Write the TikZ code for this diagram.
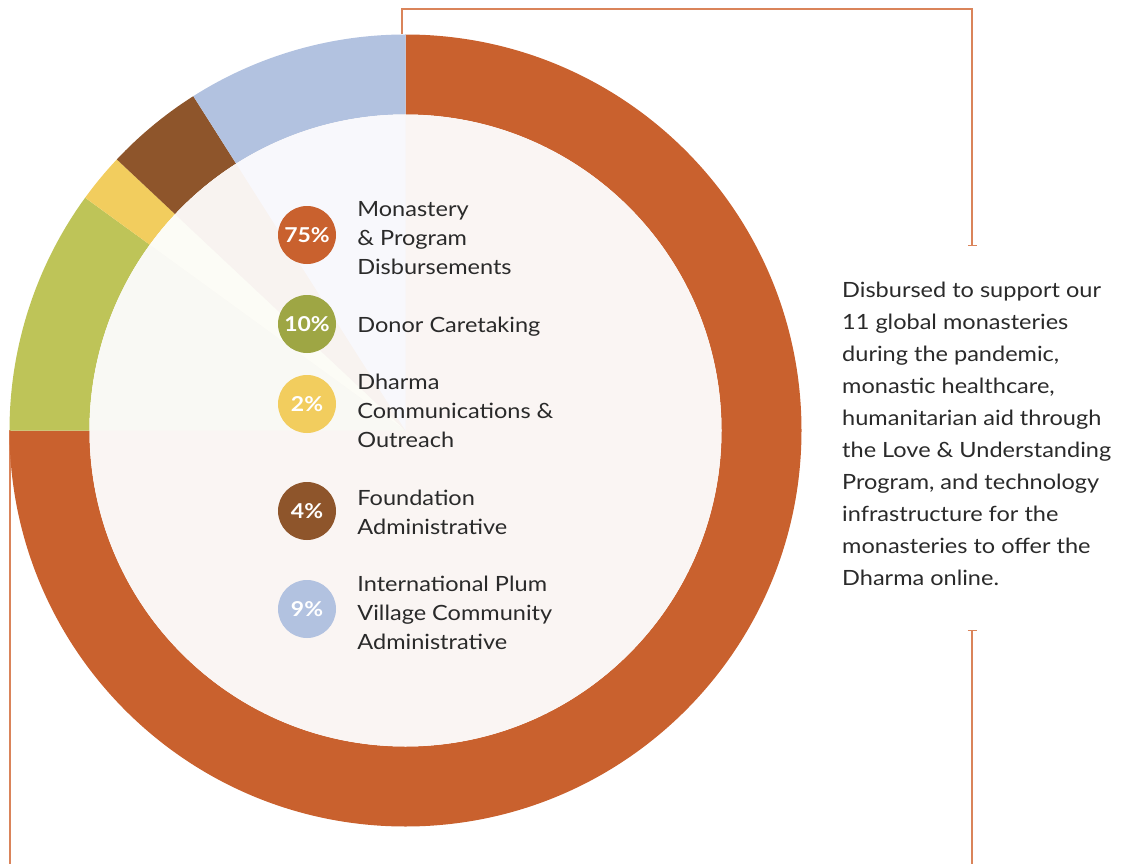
\documentclass[tikz,border=0pt]{standalone}
\usepackage{fontspec}
\setmainfont{Lato}[FakeStretch=1.12]
\usepackage{xcolor}
\usetikzlibrary{positioning,arrows.meta}
\definecolor{segorange}{HTML}{C9612E}
\definecolor{seggreen}{HTML}{BEC458}
\definecolor{segyellow}{HTML}{F2CD5E}
\definecolor{segbrown}{HTML}{8E552B}
\definecolor{segblue}{HTML}{B2C2E0}
\definecolor{dotgreen}{HTML}{9EA644}
\definecolor{innerbase}{HTML}{FAF5F3}
\definecolor{tintblue}{HTML}{F8F8FC}
\definecolor{tintbrown}{HTML}{F8F3F0}
\definecolor{tintyellow}{HTML}{FCFCF6}
\definecolor{tintgreen}{HTML}{F9F9F4}
\definecolor{leadcol}{HTML}{DA845A}
\definecolor{txtgray}{HTML}{2A2A2A}
\newcommand{\outr}{396}
\newcommand{\innr}{316}
\newcommand{\ring}[3]{\fill[#1] (#2:\outr) arc[start angle=#2, end angle=#3, radius=\outr] -- (#3:\innr) arc[start angle=#3, end angle=#2, radius=\innr] -- cycle;}
\newcommand{\tintwedge}[3]{\fill[#1] (0,0) -- (#2:\innr) arc[start angle=#2, end angle=#3, radius=\innr] -- cycle;}
\tikzset{
    pctsty/.style={circle,fill=#1,minimum size=58pt,inner sep=0pt,text=white,font=\fontsize{20.5}{20.5}\selectfont\bfseries},
    labsty/.style={anchor=west,inner sep=0pt,align=left,text=txtgray,font=\fontsize{21}{28.8}\selectfont},
    notesty/.style={anchor=north west,inner sep=0pt,align=left,text=txtgray,font=\fontsize{21}{32}\selectfont},
    leadsty/.style={draw=leadcol,line width=1.4pt},
    tipsty/.style={-{Bar[width=9pt,line width=1.4pt]}},
}

\begin{document}
\begin{tikzpicture}[x=1pt,y=-1pt]
  \useasboundingbox (0,0) rectangle (1133,864);

  \coordinate (top) at (402,34);
  \coordinate (topl) at (402,9);
  \coordinate (topr) at (972,9);
  \coordinate (endr) at (972,246);
  \coordinate (startr) at (972,630);
  \coordinate (botr) at (972,864);
  \coordinate (left) at (10,430);
  \coordinate (botl) at (10,864);

  \draw[leadsty,tipsty] (top) -- (topl) -- (topr) -- (endr);
  \draw[leadsty,{Bar[width=9pt,line width=1.4pt]}-] (startr) -- (botr);
  \draw[leadsty] (left) -- (botl);

  \begin{scope}[shift={(405.5,430.5)},yscale=-1]
    \ring{segorange}{90}{-180}
    \ring{seggreen}{180}{144}
    \ring{segyellow}{144}{136.8}
    \ring{segbrown}{136.8}{122.4}
    \ring{segblue}{122.4}{90}
    \fill[innerbase] (0,0) circle[radius=\innr];
    \tintwedge{tintgreen}{180}{144}
    \tintwedge{tintyellow}{144}{136.8}
    \tintwedge{tintbrown}{136.8}{122.4}
    \tintwedge{tintblue}{122.4}{90}
  \end{scope}

  \node[pctsty=segorange] (p75) at (307,235) {75\%};
  \node[pctsty=dotgreen] (p10) at (307,324) {10\%};
  \node[pctsty=segyellow] (p2) at (307,404) {2\%};
  \node[pctsty=segbrown] (p4) at (307,511) {4\%};
  \node[pctsty=segblue] (p9) at (307,609) {9\%};

  \node[labsty,right=21pt of p75,yshift=-3pt] (l75) {Monastery\\\& Program\\Disbursements};
  \node[labsty,right=21pt of p10,yshift=-3pt] (l10) {Donor Caretaking};
  \node[labsty,right=21pt of p2,yshift=-7pt] (l2) {Dharma\\Communications \&\\Outreach};
  \node[labsty,right=21pt of p4,yshift=-1pt] (l4) {Foundation\\Administrative};
  \node[labsty,right=21pt of p9,yshift=-4pt] (l9) {International Plum\\Village Community\\Administrative};

  \node[notesty] (note) at (842,282) {Disbursed to support our\\11 global monasteries\\during the pandemic,\\monastic healthcare,\\humanitarian aid through\\the Love \& Understanding\\Program, and technology\\infrastructure for the\\monasteries to offer the\\Dharma online.};
\end{tikzpicture}
\end{document}
